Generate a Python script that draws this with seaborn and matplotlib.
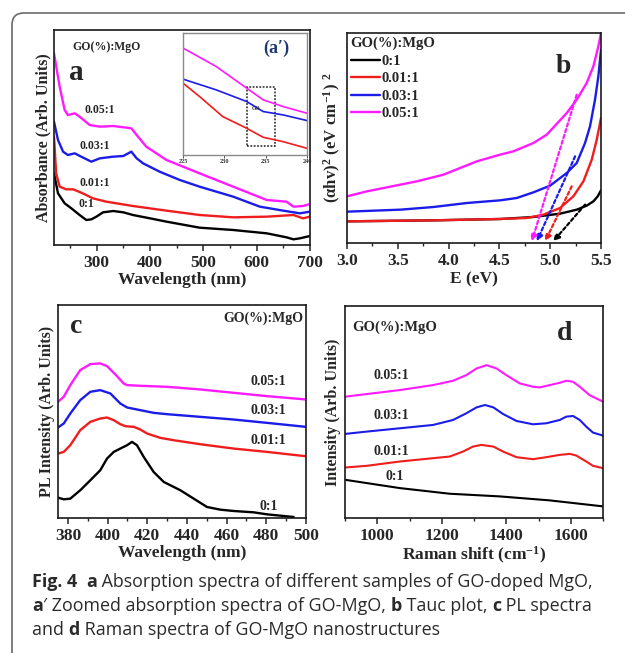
import numpy as np
import pandas as pd
import matplotlib
matplotlib.use("Agg")
import matplotlib.pyplot as plt
import seaborn as sns
from matplotlib.patches import FancyBboxPatch
from matplotlib.transforms import IdentityTransform
from matplotlib.ticker import MultipleLocator

# ---------------- data ----------------
series = ["0:1", "0.01:1", "0.03:1", "0.05:1"]
colors = ["#000000", "#f01d1d", "#1c1ce8", "#ff1aff"]

# (a) absorption spectra
a_x_k = [220, 227.5, 240, 252.6, 268, 280.5, 290, 299.5, 312, 331, 350, 368, 400, 431, 493, 556, 619, 656, 669, 681, 700]
a_y_k = [215, 155, 125, 110, 90, 75, 77, 85, 98, 102, 98, 90, 80, 70, 52, 45, 35, 23, 17, 20, 27]
a_x_r = [220, 224, 230.6, 243, 256, 274, 293, 318, 368, 431, 493, 556, 619, 669, 687, 700]
a_y_r = [325, 215, 175, 167, 167, 155, 140, 130, 117, 103, 90, 83, 85, 90, 80, 85]
a_x_b = [220, 227.5, 237, 246, 259, 271, 290, 306, 331, 350, 365, 375, 387, 418, 456, 493, 556, 606, 650, 681, 700]
a_y_b = [370, 315, 280, 270, 275, 265, 250, 260, 265, 267, 280, 260, 245, 220, 195, 175, 145, 115, 103, 95, 100]
a_x_m = [220, 230.6, 240, 246, 259, 268, 287, 306, 331, 356, 365, 375, 393, 431, 493, 556, 619, 656, 669, 687, 700]
a_y_m = [575, 475, 405, 390, 395, 385, 360, 355, 357, 352, 350, 330, 295, 255, 215, 175, 135, 130, 115, 117, 123]
a_lab_x = [281, 296, 296, 306]
a_lab_y = [123, 187, 298, 405]

# (a') inset
i_x_r = [225, 227, 229.8, 232.7, 234.7, 237.1, 240]
i_y_r = [215, 175, 115, 80, 53, 40, 20]
i_x_b = [225, 229, 232.7, 234.7, 237.1, 240]
i_y_b = [227, 195, 160, 130, 120, 103]
i_x_m = [225, 229, 232.7, 234.7, 237.1, 240]
i_y_m = [320, 265, 200, 165, 145, 125]
i_ticks = [225, 230, 235, 240]

# (b) Tauc plot
b_x_k = [3.0, 3.852, 4.507, 4.835, 5.097, 5.261, 5.359, 5.425, 5.468, 5.5]
b_y_k = [65, 68, 72, 78, 88, 100, 112, 125, 140, 158]
b_x_r = [3.0, 3.852, 4.507, 4.769, 4.933, 5.097, 5.228, 5.327, 5.409, 5.458, 5.5]
b_y_r = [65, 68, 72, 75, 85, 105, 140, 185, 250, 310, 375]
b_x_b = [3.0, 3.524, 3.852, 4.18, 4.507, 4.671, 4.835, 4.999, 5.163, 5.261, 5.343, 5.392, 5.441, 5.474, 5.5]
b_y_b = [94, 100, 108, 120, 128, 135, 152, 172, 210, 240, 300, 350, 430, 500, 580]
b_x_m = [3.0, 3.197, 3.524, 3.688, 3.95, 4.114, 4.278, 4.507, 4.638, 4.835, 4.966, 5.163, 5.261, 5.359, 5.425, 5.474, 5.5]
b_y_m = [140, 155, 175, 185, 205, 225, 245, 265, 275, 300, 325, 390, 430, 480, 530, 590, 630]
b_tan_x0 = [5.343, 5.212, 5.245, 5.261]
b_tan_y0 = [115, 170, 260, 445]
b_tan_x1 = [5.03, 4.95, 4.868, 4.819]
b_tan_y1 = [5, 5, 5, 5]

# (c) PL spectra
c_x_k = [375, 377.9, 381.2, 386.2, 391.3, 396.3, 399.7, 403.1, 406.4, 409.8, 412.3, 414.8, 418.2, 423.2, 428.3,
         436.7, 443.4, 450.1, 456.8, 463.5, 473.6, 480.3, 490.4, 493.8]
c_y_k = [61, 56, 58, 83, 113, 143, 178, 198, 208, 218, 228, 218, 183, 138, 108, 83, 58, 33, 25, 21, 17, 11, 5, 3]
c_x_r = [375, 377.9, 381.2, 386.2, 391.3, 396.3, 399.7, 403.1, 406.4, 409, 413.2, 416.5, 419.9, 426.6, 433.3,
         446.7, 463.5, 480.3, 500]
c_y_r = [193, 198, 218, 263, 288, 298, 301, 293, 281, 275, 273, 265, 253, 240, 233, 221, 208, 198, 185]
c_x_b = [375, 377.9, 381.2, 386.2, 391.3, 396.3, 401.4, 406.4, 409.8, 416.5, 423.2, 429.9, 446.7, 463.5, 480.3, 500]
c_y_b = [271, 283, 313, 353, 378, 383, 373, 343, 331, 323, 315, 311, 303, 295, 285, 273]
c_x_m = [375, 377.9, 381.2, 386.2, 391.3, 396.3, 399.7, 404.7, 408.1, 409.8, 416.5, 429.9, 446.7, 463.5, 480.3, 500]
c_y_m = [348, 363, 398, 443, 461, 463, 455, 425, 403, 398, 396, 393, 385, 375, 365, 355]
c_lab_x = [481, 481, 481, 481]
c_lab_y = [33, 233, 323, 408]

# (d) Raman spectra
d_x_k = [900, 1070, 1225, 1380, 1535, 1700]
d_y_k = [115, 90, 73, 65, 53, 35]
d_x_r = [900, 967, 1070, 1173, 1225, 1266, 1297, 1323, 1360, 1390, 1432, 1483, 1524, 1566, 1597, 1617, 1648, 1669, 1700]
d_y_r = [152, 157, 170, 180, 185, 200, 215, 220, 215, 200, 183, 177, 183, 190, 193, 188, 170, 157, 150]
d_x_b = [900, 967, 1070, 1173, 1235, 1276, 1308, 1334, 1360, 1390, 1432, 1483, 1524, 1566, 1586, 1607, 1628, 1648, 1669, 1700]
d_y_b = [253, 260, 270, 280, 295, 315, 333, 340, 333, 313, 292, 282, 285, 295, 305, 307, 295, 275, 257, 248]
d_x_m = [900, 967, 1070, 1173, 1235, 1276, 1308, 1339, 1370, 1400, 1442, 1483, 1504, 1535, 1566, 1586, 1607, 1628, 1658, 1700]
d_y_m = [365, 373, 385, 400, 413, 430, 450, 460, 450, 430, 405, 395, 393, 400, 407, 413, 410, 395, 370, 350]
d_lab_x = [1055, 1045, 1045, 1045]
d_lab_y = [125, 200, 307, 430]

# ---------------- style ----------------
sns.set_style("ticks")
plt.rcParams["font.family"] = ["Liberation Serif", "DejaVu Serif"]
plt.rcParams["font.weight"] = "bold"
plt.rcParams["axes.labelweight"] = "bold"
plt.rcParams["lines.solid_joinstyle"] = "round"
plt.rcParams["lines.solid_capstyle"] = "round"
plt.rcParams["mathtext.fontset"] = "custom"
plt.rcParams["mathtext.rm"] = "Liberation Serif:bold"
plt.rcParams["mathtext.it"] = "Liberation Serif:bold"
plt.rcParams["mathtext.bf"] = "Liberation Serif:bold"

W, H = 625, 653
fig = plt.figure(figsize=(W / 100, H / 100), dpi=100)
fig.patch.set_facecolor("white")


def add_ax(l, t, r, b):
    return fig.add_axes([l / W, 1 - b / H, (r - l) / W, (b - t) / H])


def style_ax(ax, lw=1.2):
    for s in ax.spines.values():
        s.set_linewidth(lw)
        s.set_color("#1a1a1a")
        s.set_visible(True)
    ax.set_yticks([])
    ax.tick_params(axis="x", which="major", direction="out", length=4, width=1.1, labelsize=12.5, pad=3)
    ax.tick_params(axis="x", which="minor", direction="out", length=2.5, width=1)
    for lab in ax.get_xticklabels():
        lab.set_fontweight("bold")


def draw(ax, xs, ys, lw=1.7):
    for x, y, c in zip(xs, ys, colors):
        df = pd.DataFrame({"x": x, "y": y})
        sns.lineplot(data=df, x="x", y="y", color=c, lw=lw, ax=ax, legend=False)
    ax.set_xlabel("")
    ax.set_ylabel("")


# ---------------- panel a ----------------
axa = add_ax(54, 30, 310, 245)
draw(axa, [a_x_k, a_x_r, a_x_b, a_x_m], [a_y_k, a_y_r, a_y_b, a_y_m])
axa.set_xlim(220, 700)
axa.set_ylim(0, 645)
axa.xaxis.set_major_locator(MultipleLocator(100))
axa.xaxis.set_minor_locator(MultipleLocator(50))
axa.set_xticks([300, 400, 500, 600, 700])
style_ax(axa)
axa.set_xlabel("Wavelength (nm)", fontsize=12.5, labelpad=1)
axa.set_ylabel("Absorbance (Arb. Units)", fontsize=11.5, labelpad=2)
axa.text(0.07, 0.92, "GO(%):MgO", transform=axa.transAxes, fontsize=8.5, ha="left", va="center")
axa.text(0.06, 0.8, "a", transform=axa.transAxes, fontsize=21, ha="left", va="center")
for x, y, s in zip(a_lab_x, a_lab_y, series):
    axa.text(x, y, s, fontsize=8.5, ha="center", va="center")

# ---------------- inset a' ----------------
axi = add_ax(183, 33, 307, 155)
draw(axi, [[], i_x_r, i_x_b, i_x_m], [[], i_y_r, i_y_b, i_y_m], lw=1.2)
axi.set_xlim(225, 240)
axi.set_ylim(0, 365)
axi.set_xticks(i_ticks)
axi.set_yticks([])
for s in axi.spines.values():
    s.set_color("#8a8a8a")
    s.set_linewidth(1.0)
axi.tick_params(axis="x", labelsize=4.5, length=2, width=0.6, pad=1, colors="#333333")
axi.add_patch(plt.Rectangle((232.7, 28), 3.4, 175, fill=False, ls=(0, (1.2, 1.0)), lw=1.1, ec="#222222"))
axi.text(233.3, 140, "GO", fontsize=4, ha="left", va="center")
axi.text(236.3, 320, "(a\u2032)", fontsize=13, color="#1f3a73", ha="center", va="center")

# ---------------- panel b ----------------
axb = add_ax(347, 33, 601, 243)
for x, y, c, s in zip([b_x_k, b_x_r, b_x_b, b_x_m], [b_y_k, b_y_r, b_y_b, b_y_m], colors, series):
    df = pd.DataFrame({"x": x, "y": y})
    sns.lineplot(data=df, x="x", y="y", color=c, lw=1.7, ax=axb, label=s)
for x0, y0, x1, y1, c in zip(b_tan_x0, b_tan_y0, b_tan_x1, b_tan_y1, colors):
    axb.annotate("", xy=(x1, y1), xytext=(x0, y0),
                 arrowprops=dict(arrowstyle="-|>", color=c, lw=1.6, ls=(0, (1.5, 1.2)),
                                 mutation_scale=9, shrinkA=0, shrinkB=0))
axb.set_xlim(3.0, 5.5)
axb.set_ylim(0, 630)
axb.xaxis.set_major_locator(MultipleLocator(0.5))
axb.xaxis.set_minor_locator(MultipleLocator(0.25))
axb.xaxis.set_major_formatter(matplotlib.ticker.FormatStrFormatter("%.1f"))
style_ax(axb)
axb.set_xlabel("E (eV)", fontsize=12.5, labelpad=2)
axb.set_ylabel(r"$(\alpha hv)^2\ (eV\ cm^{-1})\ ^2$", fontsize=12, labelpad=3)
leg = axb.legend(title="GO(%):MgO", loc="upper left", frameon=False, fontsize=10.5, title_fontsize=10.5,
                 handlelength=2.0, handletextpad=0.1, borderaxespad=0.15, labelspacing=0.3, borderpad=0.1)
leg._legend_box.align = "left"
for t in leg.get_texts():
    t.set_fontweight("bold")
leg.get_title().set_fontweight("bold")
axb.text(0.82, 0.84, "b", transform=axb.transAxes, fontsize=20, ha="left", va="center")

# ---------------- panel c ----------------
axc = add_ax(58, 305, 306, 518)
draw(axc, [c_x_k, c_x_r, c_x_b, c_x_m], [c_y_k, c_y_r, c_y_b, c_y_m])
axc.set_xlim(375, 500)
axc.set_ylim(0, 638)
axc.xaxis.set_major_locator(MultipleLocator(20))
axc.xaxis.set_minor_locator(MultipleLocator(10))
style_ax(axc)
axc.set_xlabel("Wavelength (nm)", fontsize=12.5, labelpad=1)
axc.set_ylabel("PL Intensity (Arb. Units)", fontsize=11.5, labelpad=2)
axc.text(0.99, 0.94, "GO(%):MgO", transform=axc.transAxes, fontsize=10, ha="right", va="center")
axc.text(0.05, 0.9, "c", transform=axc.transAxes, fontsize=20, ha="left", va="center")
for x, y, s in zip(c_lab_x, c_lab_y, series):
    axc.text(x, y, s, fontsize=10, ha="center", va="center")

# ---------------- panel d ----------------
axd = add_ax(345, 306, 603, 518)
draw(axd, [d_x_k, d_x_r, d_x_b, d_x_m], [d_y_k, d_y_r, d_y_b, d_y_m], lw=1.5)
axd.set_xlim(900, 1700)
axd.set_ylim(0, 638)
axd.xaxis.set_major_locator(MultipleLocator(200))
axd.xaxis.set_minor_locator(MultipleLocator(100))
style_ax(axd)
axd.set_xlabel(r"Raman shift (cm$^{-1}$)", fontsize=12.5, labelpad=1)
axd.set_ylabel("Intensity (Arb. Units)", fontsize=11.5, labelpad=3)
axd.text(0.03, 0.9, "GO(%):MgO", transform=axd.transAxes, fontsize=10.5, ha="left", va="center")
axd.text(0.82, 0.87, "d", transform=axd.transAxes, fontsize=20, ha="left", va="center")
for x, y, s in zip(d_lab_x, d_lab_y, series):
    axd.text(x, y, s, fontsize=10, ha="center", va="center")

# ---------------- frame ----------------
box = FancyBboxPatch((12, -60), 700, H - 13 + 60, boxstyle="round,pad=0,rounding_size=12",
                     transform=IdentityTransform(), fill=False, ec="#6a6a6a", lw=1.2)
fig.add_artist(box)

# ---------------- caption ----------------
renderer = fig.canvas.get_renderer()
cap_font = ["Open Sans", "DejaVu Sans"]
cap_color = "#2a2a2a"


def run_width(s, size, bold):
    t1 = fig.text(0, 0, "|" + s + "|", fontsize=size, family=cap_font, weight="bold" if bold else "normal")
    t2 = fig.text(0, 0, "||", fontsize=size, family=cap_font, weight="bold" if bold else "normal")
    w = t1.get_window_extent(renderer).width - t2.get_window_extent(renderer).width
    t1.remove()
    t2.remove()
    return w


lines = [
    [("Fig. 4", True), ("  ", False), ("a", True), (" Absorption spectra of different samples of GO-doped MgO,", False)],
    [("a", True), ("\u2032 Zoomed absorption spectra of GO-MgO, ", False), ("b", True), (" Tauc plot, ", False),
     ("c", True), (" PL spectra", False)],
    [("and ", False), ("d", True), (" Raman spectra of GO-MgO nanostructures", False)],
]
base_size = 12
w1 = sum(run_width(s, base_size, b) for s, b in lines[0])
cap_size = base_size * 558 / w1
baselines = [587, 611, 635]
for runs, yb in zip(lines, baselines):
    x = 32.0
    for s, b in runs:
        fig.text(x / W, 1 - yb / H, s, fontsize=cap_size, family=cap_font,
                 weight="bold" if b else "normal", color=cap_color, va="baseline", ha="left")
        x += run_width(s, cap_size, b)

fig.savefig("out.png", dpi=100)
